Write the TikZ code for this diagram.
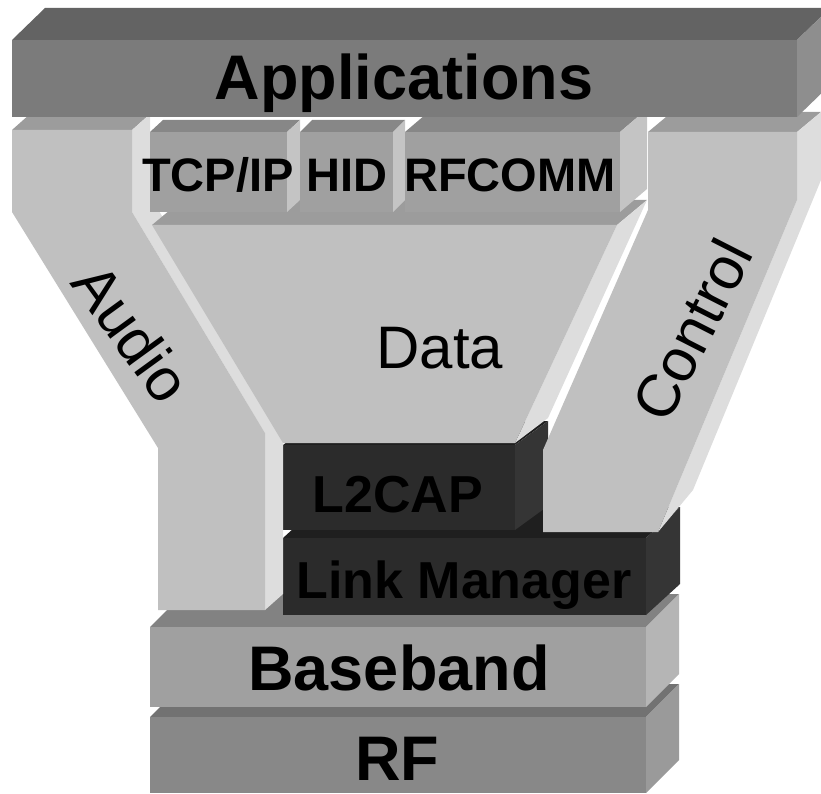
\documentclass[tikz,border=0pt]{standalone}
\usepackage{fontspec}
\setmainfont{Liberation Sans}
\usetikzlibrary{calc}
\definecolor{appfront}{HTML}{7B7B7B}
\definecolor{apptop}{HTML}{636363}
\definecolor{appside}{HTML}{8E8E8E}
\definecolor{pipefront}{HTML}{C0C0C0}
\definecolor{pipetop}{HTML}{9C9C9C}
\definecolor{pipeside}{HTML}{DDDDDD}
\definecolor{protfront}{HTML}{A0A0A0}
\definecolor{prottop}{HTML}{878787}
\definecolor{protside}{HTML}{C4C4C4}
\definecolor{lowfront}{HTML}{2B2B2B}
\definecolor{lowtop}{HTML}{1F1F1F}
\definecolor{lowside}{HTML}{353535}
\definecolor{bbfront}{HTML}{A0A0A0}
\definecolor{bbtop}{HTML}{828282}
\definecolor{bbside}{HTML}{B5B5B5}
\definecolor{rffront}{HTML}{888888}
\definecolor{rftop}{HTML}{727272}
\definecolor{rfside}{HTML}{9A9A9A}
% slab: x1 y1 x2 y2 (front face), dx dy (depth), front/top/side colours
\newcommand{\slab}[9]{%
  \fill[#8] (#1,#2) -- (#3,#2) -- ({#3+#5},{#2+#6}) -- ({#1+#5},{#2+#6}) -- cycle;
  \fill[#9] (#3,#2) -- ({#3+#5},{#2+#6}) -- ({#3+#5},{#4+#6}) -- (#3,#4) -- cycle;
  \fill[#7] (#1,#2) rectangle (#3,#4);
}
\tikzset{
  lbl/.style={inner sep=0pt,anchor=base,text=black},
  hugelbl/.style={lbl,font=\fontsize{63}{70}\selectfont\bfseries},
  midlbl/.style={lbl,font=\fontsize{52}{60}\selectfont\bfseries},
  smalllbl/.style={lbl,font=\fontsize{47}{54}\selectfont\bfseries},
  flowlbl/.style={inner sep=0pt,anchor=center,text=black,font=\fontsize{60}{66}\selectfont},
}
\begin{document}
\begin{tikzpicture}[x=1pt,y=-1pt]
\useasboundingbox (0,0) rectangle (821,794);
\clip (0,0) rectangle (821,794);

% ==== lower stack ====
\slab{150}{717}{646}{793}{33}{-33}{rffront}{rftop}{rfside}
\slab{150}{627}{646}{707}{33}{-33}{bbfront}{bbtop}{bbside}
\slab{283}{538}{646}{615}{34}{-31}{lowfront}{lowtop}{lowside}
\slab{283}{445}{515}{530}{33}{-24}{lowfront}{lowtop}{lowside}

% ==== audio pipe ====
\fill[pipetop] (12,130) -- (132,130) -- (150,114) -- (30,114) -- cycle;
\fill[pipeside] (132,130) -- (150,114) -- (150,196) -- (283,417) -- (283,594) -- (265,610) -- (265,433) -- (132,212) -- cycle;
\fill[pipefront] (12,130) -- (132,130) -- (132,212) -- (265,433) -- (265,610) -- (158,610) -- (158,448) -- (12,212) -- cycle;

% ==== control pipe ====
\fill[pipetop] (648,132) -- (797,132) -- (821,112) -- (672,112) -- cycle;
\fill[pipeside] (797,132) -- (821,112) -- (821,180) -- (693,490) -- (658,532) -- (797,200) -- cycle;
\fill[pipefront] (648,132) -- (797,132) -- (797,200) -- (658,532) -- (543,532) -- (543,450) -- (648,210) -- cycle;

% ==== data funnel ====
\fill[pipetop] (152,225) -- (617,225) -- (647,200) -- (182,200) -- cycle;
\fill[pipeside] (617,225) -- (647,200) -- (548,418) -- (515,443) -- cycle;
\fill[pipefront] (152,225) -- (617,225) -- (515,443) -- (283,443) -- cycle;

% ==== protocol boxes ====
\slab{150}{132}{287}{212}{13}{-12}{protfront}{prottop}{protside}
\slab{300}{132}{393}{212}{12}{-12}{protfront}{prottop}{protside}
\slab{405}{132}{620}{212}{27}{-23}{protfront}{prottop}{protside}

% ==== applications ====
\slab{12}{40}{797}{117}{33}{-32}{appfront}{apptop}{appside}

% ==== labels ====
\node[hugelbl] (apps) at (404,100) {Applications};
\node[smalllbl] (tcpip) at (218,192) {TCP/IP};
\node[smalllbl] (hid) at (347,192) {HID};
\node[smalllbl] (rfcomm) at (510,192) {RFCOMM};
\node[flowlbl,rotate=-54] (audio) at (132,333) {Audio};
\node[flowlbl,anchor=base] (data) at (440,368) {Data};
\node[flowlbl,rotate=63] (control) at (692,330) {Control};
\node[midlbl] (l2cap) at (398,512) {L2CAP};
\node[midlbl] (lm) at (464,598) {Link Manager};
\node[hugelbl] (bb) at (399,690) {Baseband};
\node[hugelbl] (rf) at (397,780) {RF};

\end{tikzpicture}
\end{document}
